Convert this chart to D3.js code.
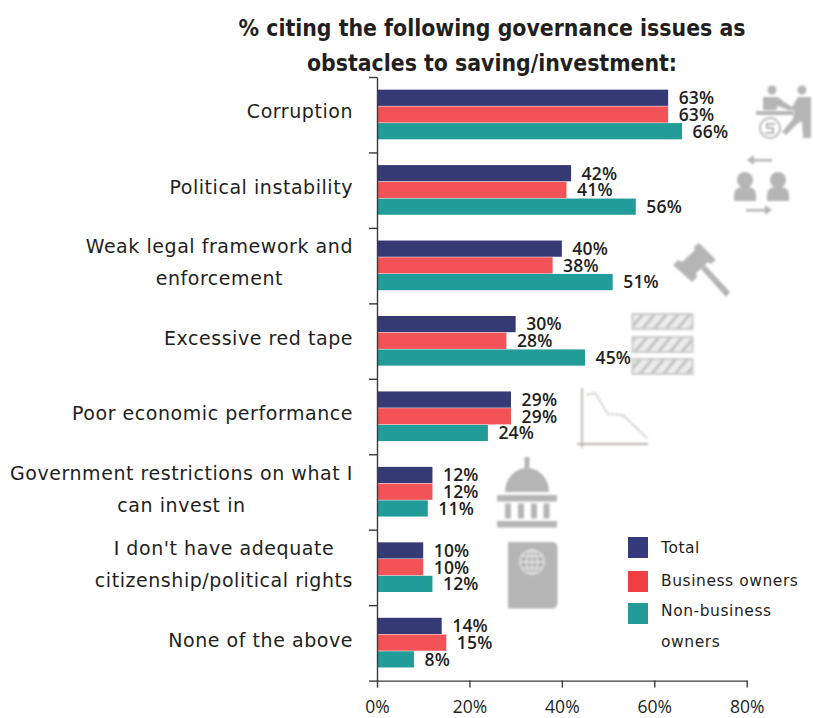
<!DOCTYPE html>
<html>
<head>
<meta charset="utf-8">
<script src="https://cdn.jsdelivr.net/npm/d3@7/dist/d3.min.js"></script>
<style>
html,body{margin:0;padding:0;background:#fff}
svg{display:block}
text{fill:#231f20}
.title{font:bold 22.8px "DejaVu Sans";font-stretch:condensed}
.cat{font:19px "DejaVu Sans";letter-spacing:0.55px}
.val{font:600 17.5px "Open Sans";letter-spacing:0.2px}
.tick-label{font:17.5px "Open Sans"}
.leg{font:15.5px "DejaVu Sans";letter-spacing:0.55px}
.icon{fill:#b5b5b5;filter:url(#soft)}
</style>
</head>
<body>
<svg id="chart" width="813" height="718"></svg>
<script>
const titleLines = ["% citing the following governance issues as", "obstacles to saving/investment:"];
const categories = ["Corruption","Political instability","Weak legal framework and|enforcement","Excessive red tape","Poor economic performance","Government restrictions on what I|can invest in","I don't have adequate|citizenship/political rights","None of the above"];
const seriesNames = ["Total","Business owners","Non-business owners"];
const total = [63,42,40,30,29,12,10,14];
const business = [63,41,38,28,29,12,10,15];
const nonBusiness = [66,56,51,45,24,11,12,8];
const barColors = ["#353a75","#f25356","#219c98"];
const legendColors = ["#353a7f","#ef3e42","#219c98"];
const xTicks = [0,20,40,60,80];

const svg = d3.select("#chart");
const plot = {left:377, right:746.7, top:77, bottom:680.6};

const defs = svg.append("defs");
defs.append("filter").attr("id","soft").append("feGaussianBlur").attr("stdDeviation",0.9);
const hatch = defs.append("pattern").attr("id","hatch").attr("width",9).attr("height",9)
  .attr("patternUnits","userSpaceOnUse").attr("patternTransform","rotate(40)");
hatch.append("rect").attr("width",9).attr("height",9).attr("fill","#ececec");
hatch.append("rect").attr("width",3).attr("height",9).attr("fill","#c2c2c2");

/* Decorative pictograms behind the bars */
const icons = svg.append("g").attr("class","icons");
function person(g,cx,cy){
  g.append("circle").attr("cx",cx).attr("cy",cy).attr("r",8);
  g.append("path").attr("d",`M${cx-11},${cy+21} L${cx-11},${cy+15} Q${cx-11},${cy+8} ${cx-4},${cy+7} L${cx+4},${cy+7} Q${cx+11},${cy+8} ${cx+11},${cy+15} L${cx+11},${cy+21} Z`);
}
// handshake over a table
const deal = icons.append("g").attr("class","icon");
deal.append("circle").attr("cx",772).attr("cy",90).attr("r",4.5);
deal.append("circle").attr("cx",802).attr("cy",90).attr("r",4.5);
deal.append("path").attr("d","M763,97 L778,97 L784,102 L792,107 L798,97 L811,97 L811,138 L803,138 L802,121 L797,124 L786,135 L782,132 L793,119 L794,110 L788,110 L778,106 L776,110 L763,110 Z");
deal.append("rect").attr("x",756).attr("y",111).attr("width",37).attr("height",4);
deal.append("circle").attr("cx",770).attr("cy",128).attr("r",10).attr("fill","none").attr("stroke","#c4c4c4").attr("stroke-width",2.2);
deal.append("path").attr("d","M775,124 L767,124 L767,128 L773,128 L773,133 L765,133").attr("fill","none").attr("stroke","#b5b5b5").attr("stroke-width",2);
// two people exchanging places
const swap = icons.append("g").attr("class","icon");
person(swap,745,180);
person(swap,778,180);
swap.append("path").attr("d","M747,160 L754,155 L754,159 L772,159 L772,161.5 L754,161.5 L754,165 Z");
swap.append("path").attr("d","M772,210 L765,205 L765,209 L746,209 L746,211.5 L765,211.5 L765,215 Z");
// gavel
const gavel = icons.append("g").attr("class","icon");
gavel.append("path").attr("d","M699,243 L716,260 L711,264 L708,262 L696,273 L697,277 L692,282 L673,265 L678,260 L682,262 L695,250 L694,247 Z");
gavel.append("path").attr("d","M701,269 L705,265 L730,292 L726,297 Z");
// stacked hatched bars for red tape
const tape = icons.append("g").attr("class","icon");
[314,337,359].forEach(y=>{
  tape.append("rect").attr("x",632.5).attr("y",y).attr("width",60).attr("height",15)
    .attr("fill","url(#hatch)").attr("stroke","#cbcbcb").attr("stroke-width",2);
});
// falling line chart
const fall = icons.append("g").attr("class","icon");
fall.append("path").attr("d","M582,388 L582,448 M577,444 L648,444").attr("fill","none").attr("stroke","#b9b3b0").attr("stroke-width",1.8);
fall.append("path").attr("d","M587,395 L595,393 L608,414 L623,415 L647,438").attr("fill","none").attr("stroke","#bdb7b4").attr("stroke-width",1.8).attr("stroke-dasharray","2.5 1.5");
// capitol building
const capitol = icons.append("g").attr("class","icon");
capitol.append("rect").attr("x",524.5).attr("y",457).attr("width",5).attr("height",14);
capitol.append("path").attr("d","M505,492 A22,24 0 0 1 549,492 Z");
capitol.append("rect").attr("x",497).attr("y",495).attr("width",60).attr("height",6.5);
[505,518,531,543.5].forEach(x=>capitol.append("rect").attr("x",x).attr("y",503.5).attr("width",6).attr("height",15));
capitol.append("rect").attr("x",497).attr("y",521).attr("width",60).attr("height",6.5);
// passport
const passport = icons.append("g").attr("class","icon");
passport.append("path").attr("d","M508,542 L552,542 Q557.5,542 557.5,548 L557.5,603 Q557.5,608.500 552,608.500 L508,608.500 Z");
const globe = passport.append("g").attr("fill","none").attr("stroke","#e4e4e4").attr("stroke-width",1.3);
globe.append("circle").attr("cx",532).attr("cy",562).attr("r",12);
globe.append("ellipse").attr("cx",532).attr("cy",562).attr("rx",5.5).attr("ry",12);
globe.append("path").attr("d","M520,562 L544,562 M522,556 L542,556 M522,568 L542,568 M532,550 L532,574");

/* Scales */
const x = d3.scaleLinear().domain([0,80]).range([plot.left,plot.right]);
const y = d3.scaleBand().domain(categories).range([plot.top,plot.bottom]).paddingInner(0.335).paddingOuter(0.1675);
const sub = d3.scaleBand().domain(seriesNames).range([0,y.bandwidth()]);
const edges = d3.scaleLinear().domain([0,categories.length]).range([plot.top,plot.bottom]);
const seriesValues = [total,business,nonBusiness];

/* Bars and their value labels */
const bars = svg.append("g");
seriesNames.forEach((name,s)=>{
  const g = bars.append("g");
  g.selectAll("rect").data(categories).join("rect")
    .attr("x",x(0))
    .attr("y",c=>y(c)+sub(name))
    .attr("width",(c,i)=>x(seriesValues[s][i])-x(0))
    .attr("height",sub.bandwidth()-0.5)
    .attr("fill",barColors[s]);
  g.selectAll("text").data(categories).join("text")
    .attr("class","val")
    .attr("x",(c,i)=>x(seriesValues[s][i])+10.5)
    .attr("y",c=>y(c)+sub(name)+sub.bandwidth()/2)
    .attr("dy","0.35em")
    .text((c,i)=>seriesValues[s][i]+"%");
});

/* Axes */
const axisColor = "#3a3a3c";
const yAxis = svg.append("g").attr("transform",`translate(${plot.left},0)`)
  .call(d3.axisLeft(edges).tickValues(d3.range(categories.length+1)).tickFormat("").tickSize(8).tickSizeOuter(0));
const xAxis = svg.append("g").attr("transform",`translate(0,${plot.bottom})`)
  .call(d3.axisBottom(x).tickValues(xTicks).tickFormat(d=>d+"%").tickSize(7).tickSizeOuter(0).tickPadding(13));
xAxis.selectAll("text").attr("class","tick-label").attr("font-family",null).attr("font-size",null).attr("fill",null);
[yAxis,xAxis].forEach(a=>{
  a.attr("font-family",null).attr("font-size",null);
  a.selectAll("path,line").attr("stroke",axisColor).attr("stroke-width",1.4);
});

/* Category labels: two-line names are centred on each other, block flush to the axis */
const labelRight = 353;
const measure = svg.append("g");
categories.forEach(c=>{
  const lines = c.split("|");
  const cy = y(c)+y.bandwidth()/2;
  const g = measure.append("g");
  const nodes = lines.map((t,i)=>g.append("text").attr("class","cat").text(t)
     .attr("y",lines.length===1 ? cy-3 : cy-3+(i-0.5)*32).attr("dy","0.35em"));
  const widest = d3.max(nodes,n=>n.node().getComputedTextLength());
  nodes.forEach(n=>n.attr("x",labelRight-widest/2).attr("text-anchor","middle"));
});

/* Title */
svg.append("g").selectAll("text").data(titleLines).join("text")
  .attr("class","title").attr("text-anchor","middle")
  .attr("x",492).attr("y",(d,i)=>36+i*35).text(d=>d);

/* Legend */
const legendRows = [[537,"Total",0,[548]],[571,"Business owners",1,[581]],[603,"Non-business",2,[611,642]]];
const legend = svg.append("g");
seriesNames.forEach((name,i)=>{
  const top = legendRows[i][0];
  legend.append("rect").attr("x",628).attr("y",top).attr("width",20).attr("height",21).attr("fill",legendColors[i]);
  const parts = name==="Non-business owners" ? ["Non-business","owners"] : [name];
  parts.forEach((t,j)=>legend.append("text").attr("class","leg").attr("x",661)
     .attr("y",legendRows[i][3][j]).attr("dy","0.35em").text(t));
});
</script>
</body>
</html>
